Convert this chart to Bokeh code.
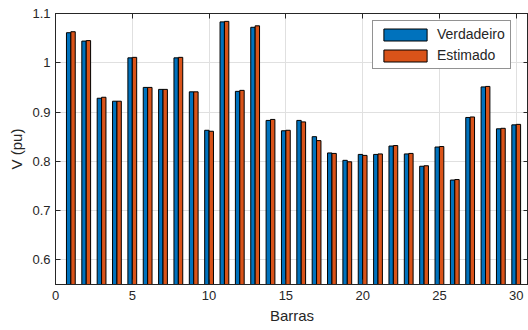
from bokeh.plotting import figure
from bokeh.models import (ColumnDataSource, FixedTicker, LinearAxis, Legend, LegendItem,
                          NumeralTickFormatter, CustomJSTickFormatter, Range1d)
from bokeh.transform import dodge
from bokeh.embed import file_html
from bokeh.resources import INLINE

barras = list(range(1, 31))
verdadeiro = [1.061, 1.044, 0.928, 0.922, 1.010, 0.950, 0.946, 1.010, 0.941, 0.863,
              1.083, 0.942, 1.072, 0.883, 0.862, 0.883, 0.850, 0.817, 0.802, 0.814,
              0.814, 0.831, 0.815, 0.790, 0.829, 0.762, 0.889, 0.951, 0.866, 0.874]
estimado = [1.063, 1.045, 0.930, 0.922, 1.011, 0.950, 0.946, 1.011, 0.941, 0.861,
            1.084, 0.944, 1.075, 0.885, 0.863, 0.880, 0.842, 0.816, 0.799, 0.812,
            0.815, 0.832, 0.816, 0.791, 0.830, 0.763, 0.890, 0.952, 0.867, 0.875]
x_ticks = [0, 5, 10, 15, 20, 25, 30]
y_ticks = [0.6, 0.7, 0.8, 0.9, 1.0, 1.1]
series_names = ["Verdadeiro", "Estimado"]

BLUE = "#0072BD"
ORANGE = "#D95319"
DARK = "#262626"
FONT = "Liberation Sans"

src = ColumnDataSource(dict(x=barras, v=verdadeiro, e=estimado))

p = figure(width=528, height=330, output_backend="svg", toolbar_location=None,
           x_range=Range1d(0, 30.8), y_range=Range1d(0.55, 1.1),
           min_border_left=55, min_border_right=0, min_border_top=13, min_border_bottom=46)
p.background_fill_color = "white"
p.border_fill_color = "white"
p.outline_line_color = DARK
p.outline_line_width = 1

bw = 0.286
r1 = p.vbar(x=dodge("x", -bw / 2, range=p.x_range), top="v", bottom=0, width=bw, source=src,
            fill_color=BLUE, line_color="black", line_width=1)
r2 = p.vbar(x=dodge("x", bw / 2, range=p.x_range), top="e", bottom=0, width=bw, source=src,
            fill_color=ORANGE, line_color="black", line_width=1)

for ax in (p.xaxis[0], p.yaxis[0]):
    ax.axis_line_color = DARK
    ax.major_tick_line_color = DARK
    ax.major_tick_in = 5
    ax.major_tick_out = 0
    ax.minor_tick_line_color = None
    ax.major_label_text_font = FONT
    ax.major_label_text_font_size = "13px"
    ax.major_label_text_color = DARK
    ax.axis_label_text_font = FONT
    ax.axis_label_text_font_size = "15px"
    ax.axis_label_text_font_style = "normal"
    ax.axis_label_text_color = DARK

p.xaxis.ticker = FixedTicker(ticks=x_ticks)
p.yaxis.ticker = FixedTicker(ticks=y_ticks)
p.yaxis.formatter = NumeralTickFormatter(format="0.[0]")
p.xaxis.axis_label = "Barras"
p.yaxis.axis_label = "V (pu)"
p.xaxis.major_label_standoff = 6
p.yaxis.major_label_standoff = 5
p.xaxis.axis_label_standoff = 4
p.yaxis.axis_label_standoff = 4

for loc, tick in (("above", x_ticks), ("right", y_ticks)):
    a = LinearAxis(ticker=FixedTicker(ticks=tick),
                   formatter=CustomJSTickFormatter(code="return ''"),
                   major_label_standoff=0, major_tick_in=5, major_tick_out=0,
                   minor_tick_line_color=None, axis_line_color=DARK,
                   major_tick_line_color=DARK)
    p.add_layout(a, loc)

p.xgrid.ticker = FixedTicker(ticks=x_ticks)
p.ygrid.ticker = FixedTicker(ticks=y_ticks)
p.grid.grid_line_color = "#e0e0e0"
p.grid.grid_line_width = 1

legend = Legend(items=[LegendItem(label=series_names[0], renderers=[r1]),
                       LegendItem(label=series_names[1], renderers=[r2])],
                location=(317, 215), margin=0, padding=5, spacing=5,
                glyph_width=54, glyph_height=15, label_height=15, label_standoff=5,
                label_text_font=FONT, label_text_font_size="14px", label_text_color=DARK,
                border_line_color=DARK, border_line_width=1, background_fill_alpha=1)
p.add_layout(legend, "center")

open("out.html", "w").write(file_html(p, INLINE))
